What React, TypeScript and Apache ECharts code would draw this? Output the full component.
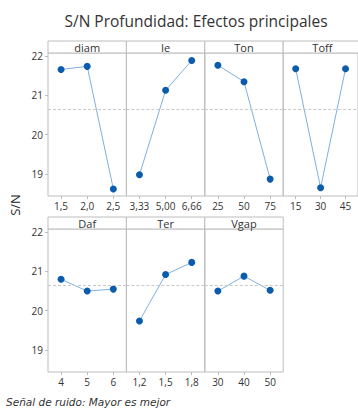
import React, { useEffect, useRef } from "react";
import * as echarts from "echarts";

const factorNames = ["diam", "Ie", "Ton", "Toff", "Daf", "Ter", "Vgap"];
const diamLevels = ["1,5", "2,0", "2,5"];
const ieLevels = ["3,33", "5,00", "6,66"];
const tonLevels = ["25", "50", "75"];
const toffLevels = ["15", "30", "45"];
const dafLevels = ["4", "5", "6"];
const terLevels = ["1,2", "1,5", "1,8"];
const vgapLevels = ["30", "40", "50"];

const diamSN = [21.66, 21.74, 18.62];
const ieSN = [18.98, 21.13, 21.89];
const tonSN = [21.77, 21.35, 18.87];
const toffSN = [21.68, 18.65, 21.68];
const dafSN = [20.8, 20.5, 20.55];
const terSN = [19.74, 20.92, 21.23];
const vgapSN = [20.5, 20.88, 20.52];

const overallMean = 20.65;
const yTicks = [19, 20, 21, 22];
const yMin = 18.44;
const yMax = 22.08;

const levels = [diamLevels, ieLevels, tonLevels, toffLevels, dafLevels, terLevels, vgapLevels];
const values = [diamSN, ieSN, tonSN, toffSN, dafSN, terSN, vgapSN];

export default function App() {
  const ref = useRef<HTMLDivElement>(null);
  useEffect(() => {
    const chart = echarts.init(ref.current!, null, { renderer: "svg" });
    const left0 = 48;
    const pw = 78.4;
    const headerH = 12;
    const rowTops = [41, 217];
    const plotH = 143;
    const font = "Open Sans";
    const grids: any[] = [];
    const xAxes: any[] = [];
    const yAxes: any[] = [];
    const series: any[] = [];
    const graphics: any[] = [];
    factorNames.forEach((name, i) => {
      const row = i < 4 ? 0 : 1;
      const col = i < 4 ? i : i - 4;
      const x = left0 + col * pw;
      const top = rowTops[row] + headerH;
      grids.push({
        left: x,
        top: top,
        width: pw,
        height: plotH,
        show: true,
        borderColor: "#bdbdbd",
        borderWidth: 1,
        backgroundColor: "transparent",
      });
      xAxes.push({
        type: "category",
        gridIndex: i,
        data: levels[i],
        boundaryGap: true,
        axisLine: { show: false },
        axisTick: { show: true, alignWithLabel: true, length: 3, lineStyle: { color: "#bdbdbd" } },
        axisLabel: { interval: 0, fontSize: 10, color: "#333", fontFamily: font, margin: 5 },
        splitLine: { show: false },
      });
      yAxes.push({
        type: "value",
        gridIndex: i,
        min: yMin,
        max: yMax,
        axisLine: { show: false },
        axisTick: { show: col === 0, length: 3, customValues: yTicks, lineStyle: { color: "#bdbdbd" } },
        axisLabel: { show: col === 0, customValues: yTicks, fontSize: 10, color: "#333", fontFamily: font, margin: 5 },
        splitLine: { show: false },
      });
      series.push({
        type: "line",
        xAxisIndex: i,
        yAxisIndex: i,
        data: values[i],
        symbol: "circle",
        symbolSize: 7,
        itemStyle: { color: "#0b5cad" },
        lineStyle: { color: "#7fb0e0", width: 1 },
        markLine: {
          silent: true,
          symbol: "none",
          label: { show: false },
          lineStyle: { color: "#c8c8c8", type: [3, 2], width: 1 },
          data: [{ yAxis: overallMean }],
        },
      });
      graphics.push({
        type: "rect",
        shape: { x: x, y: rowTops[row], width: pw, height: headerH },
        style: { fill: "#fff", stroke: "#bdbdbd", lineWidth: 1 },
      });
      graphics.push({
        type: "text",
        x: x + pw / 2,
        y: rowTops[row] + headerH / 2,
        style: {
          text: name,
          fontSize: 11,
          fontFamily: font,
          fill: "#333",
          align: "center",
          verticalAlign: "middle",
        },
      });
    });
    graphics.push({
      type: "text",
      x: 15,
      y: 205,
      rotation: Math.PI / 2,
      style: { text: "S/N", fontSize: 13, fontFamily: font, fill: "#222", align: "center", verticalAlign: "middle" },
    });
    graphics.push({
      type: "text",
      x: 6,
      y: 402,
      style: {
        text: "Señal de ruido: Mayor es mejor",
        fontSize: 10.5,
        fontStyle: "italic",
        fontFamily: "DejaVu Sans",
        fill: "#333",
        align: "left",
        verticalAlign: "middle",
      },
    });
    chart.setOption({
      animation: false,
      backgroundColor: "#fff",
      title: {
        text: "S/N Profundidad: Efectos principales",
        left: 191,
        top: 8,
        textAlign: "center",
        textStyle: { fontSize: 15.5, fontWeight: "normal", fontFamily: font, color: "#333" },
      },
      grid: grids,
      xAxis: xAxes,
      yAxis: yAxes,
      series: series,
      graphic: graphics,
    });
    return () => chart.dispose();
  }, []);
  return <div ref={ref} style={{ width: 358, height: 409, position: "absolute", left: 0, top: 0 }} />;
}
